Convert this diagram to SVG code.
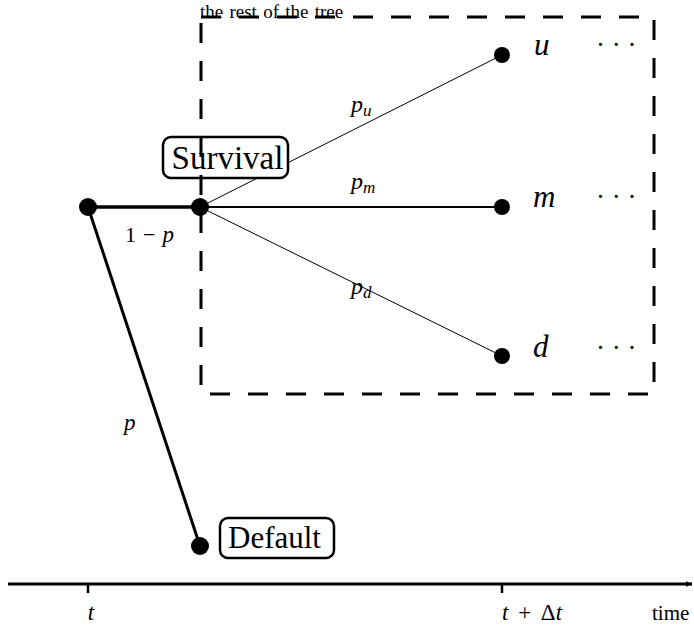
<svg xmlns="http://www.w3.org/2000/svg" width="694" height="630" viewBox="0 0 694 630">
<defs>
<style>
.dot{fill:#000}
text{font-family:"Liberation Serif","DejaVu Serif",serif;fill:#000}
.math{font-style:italic}
.dots{font-size:27px;letter-spacing:0px}
.box{fill:#fff;stroke:#000;stroke-width:2.5}
</style>
<marker id="arr" viewBox="0 0 10 10" refX="9" refY="5" markerWidth="7" markerHeight="7" orient="auto" markerUnits="userSpaceOnUse">
<path d="M0,1 L10,5 L0,9 Z" fill="#000"/>
</marker>
</defs>
<rect width="694" height="630" fill="#fff"/>
<g id="connectors" stroke="#000" fill="none">
<line x1="88" y1="207" x2="200" y2="207" stroke-width="3.5"/>
<line x1="88" y1="207" x2="200" y2="546" stroke-width="3"/>
<line x1="200" y1="207" x2="502" y2="55" stroke-width="1"/>
<line x1="200" y1="207" x2="502" y2="207" stroke-width="1.8"/>
<line x1="200" y1="207" x2="502" y2="356" stroke-width="1"/>
</g>
<g id="edge-labels">
<text class="math" x="351" y="112" font-size="24">p<tspan font-size="17" dy="4">u</tspan></text>
<text class="math" x="351" y="189" font-size="24">p<tspan font-size="17" dy="4">m</tspan></text>
<text class="math" x="351" y="294" font-size="24">p<tspan font-size="17" dy="4">d</tspan></text>
<text x="125" y="242" font-size="22">1<tspan dx="7">−</tspan><tspan dx="7" font-style="italic" font-size="23">p</tspan></text>
<text class="math" x="124" y="430" font-size="23">p</text>
</g>
<g id="node-root"><circle class="dot" cx="88" cy="207" r="9"/></g>
<g id="node-survival">
<rect class="box" x="163" y="137" width="125" height="41" rx="8"/>
<text x="227.5" y="169" font-size="33" text-anchor="middle">Survival</text>
<circle class="dot" cx="200" cy="207" r="9"/>
</g>
<g id="region">
<rect x="201" y="17" width="453" height="377" fill="none" stroke="#000" stroke-width="3" stroke-dasharray="20,18"/>
<text x="200" y="18" font-size="19" word-spacing="1.5">the rest of the tree</text>
</g>
<g id="node-u"><circle class="dot" cx="502" cy="55" r="8"/><text class="math" x="534" y="55" font-size="31">u</text><text class="dots" x="596" y="54">· · ·</text></g>
<g id="node-m"><circle class="dot" cx="502" cy="207" r="8"/><text class="math" x="533" y="207" font-size="31">m</text><text class="dots" x="596" y="206">· · ·</text></g>
<g id="node-d"><circle class="dot" cx="502" cy="356" r="8"/><text class="math" x="533" y="357" font-size="31">d</text><text class="dots" x="596" y="357">· · ·</text></g>
<g id="node-default">
<circle class="dot" cx="200" cy="546" r="9"/>
<rect class="box" x="220" y="518" width="114" height="40" rx="8"/>
<text x="274.5" y="548" font-size="31" text-anchor="middle">Default</text>
</g>
<g id="axis" stroke="#000">
<line x1="8" y1="584" x2="692" y2="584" stroke-width="3" marker-end="url(#arr)"/>
<line x1="88" y1="584" x2="88" y2="593" stroke-width="2.5"/>
<line x1="502" y1="584" x2="502" y2="593" stroke-width="2.5"/>
</g>
<g id="axis-labels">
<text class="math" x="91" y="620" font-size="23" text-anchor="middle">t</text>
<text x="502" y="620" font-size="23" word-spacing="4"><tspan font-style="italic">t</tspan> + Δ<tspan font-style="italic">t</tspan></text>
<text x="652" y="620" font-size="21">time</text>
</g>
</svg>
